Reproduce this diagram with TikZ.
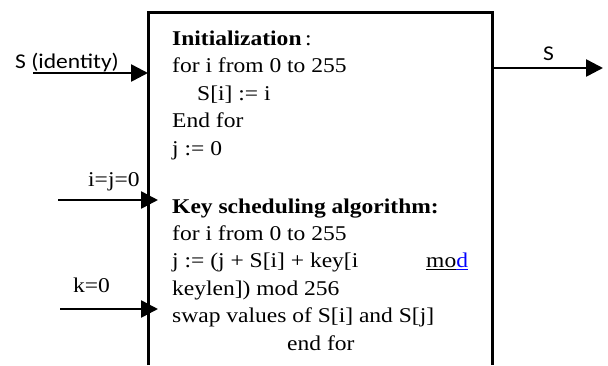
\documentclass[tikz,border=0pt]{standalone}
\usepackage{fontspec}
\setmainfont{Liberation Serif}[FakeStretch=1.12]
\newfontfamily\calfont{Carlito}[FakeStretch=1.12]
\usetikzlibrary{arrows.meta}

\tikzset{
  arr/.style={line width=2.6pt,-{Triangle[length=17pt,width=17pt]}},
  algo/.style={anchor=base west,inner sep=0pt,font=\fontsize{21}{27.5}\selectfont},
  lab/.style={anchor=base west,inner sep=0pt,font=\fontsize{21}{25}\selectfont},
  labsans/.style={lab,font=\fontsize{21}{25}\selectfont\calfont},
}

\begin{document}
\begin{tikzpicture}[x=1pt,y=-1pt]
  \useasboundingbox (0,0) rectangle (608,365);
  % the box, open at the bottom
  \coordinate (bl) at (148,365);
  \coordinate (tl) at (148,12);
  \coordinate (tr) at (492,12);
  \coordinate (br) at (492,365);
  \draw[line width=3pt] (bl)--(tl)--(tr)--(br);
  % inputs and output
  \coordinate (sid) at (33,73);
  \coordinate (ij) at (58,200);
  \coordinate (ijend) at (158,200);
  \coordinate (k) at (60,309);
  \coordinate (kend) at (158,309);
  \coordinate (sout) at (603,68);
  \draw[arr] (sid)--(sid-|tl);
  \draw[arr] (ij)--(ijend);
  \draw[arr] (k)--(kend);
  \draw[arr] (sout-|tr)--(sout);
  \node[labsans] (lsid) at (15,68) {S (identity)};
  \node[lab] (lij) at (88,186) {i=j=0};
  \node[lab] (lk) at (73,292) {k=0};
  \node[labsans] (ls) at (543,60) {S};
  % the algorithm text
  \foreach \t [count=\n] in {{\textbf{Initialization}\,:},
    {for i from 0 to 255},{\hspace*{25pt}S[i] := i},{End for},{j := 0}}
  {
    \node[algo] (i\n) at (172,{45+27.6*(\n-1)}) {\t};
  }
  \foreach \t [count=\n] in {{\textbf{Key scheduling algorithm:}},
    {for i from 0 to 255},
    {\makebox[254pt][l]{j := (j + S[i] + key[i}\underline{mo}\textcolor{blue}{\underline{d}}},
    {keylen]) mod 256},{swap values of S[i] and S[j]},{\hspace*{115pt}end for}}
  {
    \node[algo] (k\n) at (172,{213+27.4*(\n-1)}) {\t};
  }
\end{tikzpicture}
\end{document}
